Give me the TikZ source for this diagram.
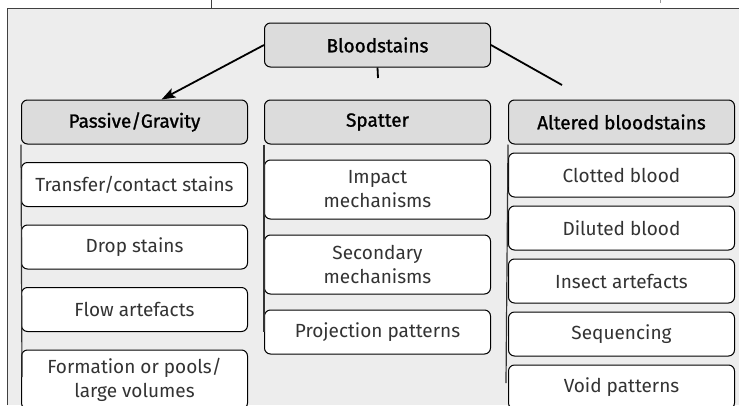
\documentclass[tikz,border=0pt]{standalone}
\usepackage{fontspec}
\setmainfont{Fira Sans}
\newfontfamily\headfont{Fira Sans}[FakeBold=1.2]
\usetikzlibrary{arrows.meta,positioning}

\definecolor{panelbg}{HTML}{EDEDED}
\definecolor{headbg}{HTML}{DCDCDC}

\begin{document}
\begin{tikzpicture}[x=1pt, y=-1pt,
        node distance=17.5pt,
        every node/.style={draw, rounded corners=6pt, align=center, line width=1pt,
            minimum width=226pt, minimum height=44pt, inner sep=2pt,
            font=\fontsize{19}{24}\selectfont},
        head/.style={fill=headbg, font=\fontsize{19}{24}\selectfont\headfont},
        leaf/.style={fill=white, text=black!80},
        tall/.style={minimum height=59pt},
        link/.style={line width=1.8pt},
        rail/.style={line width=1.2pt, black!80}
    ]

    \useasboundingbox (0,0) rectangle (739,405);

    % Panel
    \fill[panelbg] (7,8) rectangle (739,405);
    \draw[line width=1pt, black!75] (7,405) -- (7,8) -- (739,8);
    \draw[line width=1pt, black!75] (211,0) -- (211,8);
    \draw[black!40] (660,0) -- (660,3);

    % Nodes
    \node (root)[head] at (377.5,45) {Bloodstains};

    \node (spatter)[head, below=32pt of root] {Spatter};
    \node (passive)[head, left=16pt of spatter] {Passive/Gravity};
    \node (altered)[head, right=17pt of spatter] {Altered bloodstains};

    \node (transfer)[leaf, below=of passive] {Transfer/contact stains};
    \node (drop)[leaf, below=of transfer] {Drop stains};
    \node (flow)[leaf, below=of drop] {Flow artefacts};
    \node (pools)[leaf, tall, below=of flow] {Formation or pools/\\large volumes};

    \node (impact)[leaf, tall, below=15pt of spatter] {Impact\\mechanisms};
    \node (secondary)[leaf, tall, below=15pt of impact] {Secondary\\mechanisms};
    \node (projection)[leaf, below=15pt of secondary] {Projection patterns};

    \node (clotted)[leaf, below=8pt of altered] {Clotted blood};
    \node (diluted)[leaf, below=8pt of clotted] {Diluted blood};
    \node (insect)[leaf, below=8pt of diluted] {Insect artefacts};
    \node (sequencing)[leaf, below=8pt of insect] {Sequencing};
    \node (void)[leaf, below=8pt of sequencing] {Void patterns};

    % Edges
    \coordinate (rtip) at (562,85);
    \coordinate (stub) at (378,78);
    \draw[link, -{Stealth[length=14pt, width=10pt, inset=3pt]}] (root.west) -- ([xshift=27pt]passive.north);
    \draw[link] (root.east) -- (rtip);
    \draw[link] (root.south) -- (stub);

    % Rails
    \coordinate (passbot) at (22,377);
    \coordinate (spatbot) at (264,332);
    \coordinate (altbot) at (506,383);
    \draw[rail] (passive.south west) -- (passbot);
    \draw[rail] (spatter.south west) -- (spatbot);
    \draw[rail] (altered.south west) -- (altbot);

\end{tikzpicture}
\end{document}
